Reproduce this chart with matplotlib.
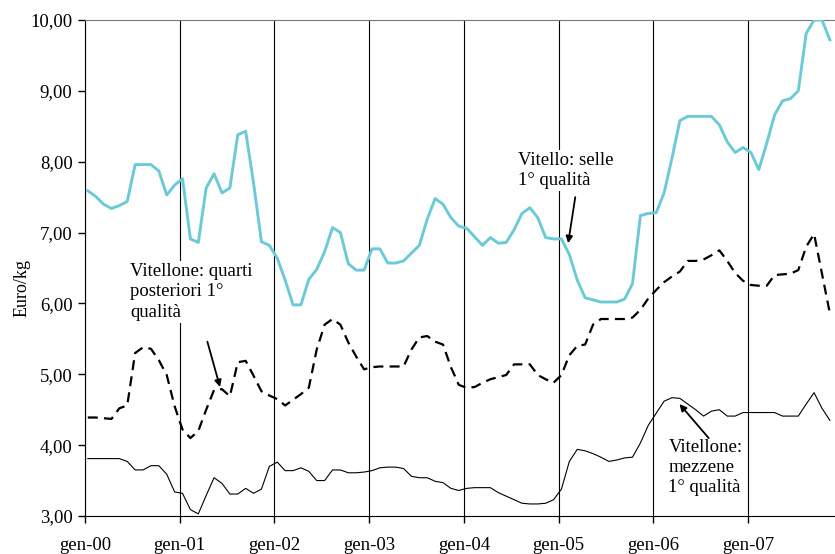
import numpy as np
import matplotlib.pyplot as plt
from matplotlib.ticker import FuncFormatter

# monthly prices, gen-00 .. nov-07 (euro/kg)
vitello_selle = [7.59, 7.51, 7.40, 7.34, 7.38, 7.44, 7.96, 7.96, 7.96, 7.87, 7.53, 7.67,
                 7.76, 6.91, 6.86, 7.63, 7.83, 7.56, 7.63, 8.38, 8.43, 7.70, 6.87, 6.82,
                 6.64, 6.33, 5.98, 5.98, 6.34, 6.48, 6.73, 7.07, 7.00, 6.56, 6.47, 6.47,
                 6.77, 6.77, 6.57, 6.57, 6.60, 6.71, 6.82, 7.19, 7.48, 7.40, 7.21, 7.09,
                 7.06, 6.94, 6.82, 6.93, 6.85, 6.86, 7.04, 7.27, 7.35, 7.21, 6.93, 6.91,
                 6.91, 6.69, 6.33, 6.08, 6.05, 6.02, 6.02, 6.02, 6.06, 6.28, 7.24, 7.27,
                 7.28, 7.56, 8.05, 8.58, 8.64, 8.64, 8.64, 8.64, 8.52, 8.28, 8.13, 8.20,
                 8.13, 7.89, 8.26, 8.66, 8.86, 8.89, 9.00, 9.81, 10.0, 10.0, 9.72]

quarti_post = [4.39, 4.39, 4.38, 4.37, 4.52, 4.56, 5.30, 5.38, 5.36, 5.20, 4.99, 4.55,
               4.22, 4.10, 4.20, 4.50, 4.78, 4.79, 4.69, 5.17, 5.19, 4.98, 4.76, 4.70,
               4.65, 4.56, 4.64, 4.72, 4.81, 5.35, 5.70, 5.78, 5.70, 5.45, 5.25, 5.07,
               5.10, 5.11, 5.11, 5.11, 5.11, 5.35, 5.52, 5.54, 5.46, 5.42, 5.10, 4.85,
               4.81, 4.82, 4.88, 4.93, 4.96, 4.99, 5.14, 5.14, 5.14, 4.99, 4.93, 4.88,
               4.99, 5.27, 5.40, 5.42, 5.70, 5.78, 5.78, 5.78, 5.78, 5.80, 5.91, 6.07,
               6.19, 6.30, 6.38, 6.45, 6.60, 6.60, 6.62, 6.68, 6.75, 6.60, 6.43, 6.32,
               6.26, 6.25, 6.25, 6.40, 6.41, 6.42, 6.47, 6.80, 6.98, 6.42, 5.86]

mezzene = [3.81, 3.81, 3.81, 3.81, 3.81, 3.77, 3.65, 3.65, 3.71, 3.71, 3.59, 3.34,
           3.32, 3.09, 3.03, 3.29, 3.54, 3.46, 3.31, 3.31, 3.39, 3.32, 3.38, 3.70,
           3.76, 3.64, 3.64, 3.68, 3.63, 3.50, 3.50, 3.65, 3.65, 3.61, 3.61, 3.62,
           3.64, 3.68, 3.69, 3.69, 3.67, 3.56, 3.54, 3.54, 3.49, 3.47, 3.39, 3.36,
           3.39, 3.40, 3.40, 3.40, 3.33, 3.28, 3.23, 3.18, 3.17, 3.17, 3.18, 3.23,
           3.38, 3.77, 3.94, 3.92, 3.88, 3.83, 3.77, 3.79, 3.82, 3.83, 4.03, 4.28,
           4.45, 4.62, 4.67, 4.66, 4.58, 4.50, 4.41, 4.48, 4.50, 4.41, 4.41, 4.46,
           4.46, 4.46, 4.46, 4.46, 4.41, 4.41, 4.41, 4.58, 4.74, 4.52, 4.35]

year_labels = ['gen-00', 'gen-01', 'gen-02', 'gen-03', 'gen-04', 'gen-05', 'gen-06', 'gen-07']

plt.rcParams['font.family'] = ['Liberation Serif', 'DejaVu Serif']
plt.rcParams['font.size'] = 13.5

fig = plt.figure(figsize=(8.35, 5.54), dpi=100)
ax = fig.add_axes([0.1018, 0.0686, 0.8982, 0.8953])

months = np.arange(len(vitello_selle)) + 0.35

ax.plot(months, vitello_selle, color='#6CCAD8', lw=2.1, zorder=3)
ax.plot(months, quarti_post, color='k', lw=1.6, linestyle=(0, (4.5, 2.8)), zorder=3)
ax.plot(months, mezzene, color='k', lw=0.8, zorder=3)

ax.set_xlim(0, 95)
ax.set_ylim(3, 10)
ax.set_xticks(np.arange(len(year_labels)) * 12)
ax.set_xticklabels(year_labels)
ax.set_yticks(np.arange(3, 11, 1))
ax.yaxis.set_major_formatter(FuncFormatter(lambda v, p: f'{v:.2f}'.replace('.', ',')))
ax.tick_params(direction='out', length=5, width=1, colors='k', labelsize=13.5)
ax.tick_params(axis='x', pad=10)
ax.tick_params(axis='y', pad=4)

ax.grid(axis='x', color='k', lw=0.8, zorder=1)
ax.set_axisbelow(True)

ax.spines['right'].set_visible(False)
ax.spines['top'].set_color('#777777')
ax.spines['left'].set_color('k')
ax.spines['bottom'].set_color('k')

ax.set_ylabel('Euro/kg', fontsize=13)
ax.yaxis.set_label_coords(-0.072, 0.46)

box = dict(facecolor='white', edgecolor='none', pad=1.5)
arr = dict(arrowstyle='-|>', color='k', lw=1.3, mutation_scale=10, shrinkA=0, shrinkB=0)

ax.text(54.9, 8.14, 'Vitello: selle\n1° qualità', ha='left', va='top',
        linespacing=1.25, bbox=box, zorder=4)
ax.annotate('', xy=(61.2, 6.85), xytext=(62.1, 7.50), arrowprops=arr, zorder=5)

ax.text(5.7, 6.57, 'Vitellone: quarti\nposteriori 1°\nqualità', ha='left', va='top',
        linespacing=1.25, bbox=box, zorder=4)
ax.annotate('', xy=(17.1, 4.82), xytext=(15.5, 5.46), arrowprops=arr, zorder=5)

ax.text(73.9, 4.09, 'Vitellone:\nmezzene\n1° qualità', ha='left', va='top',
        linespacing=1.25, bbox=box, zorder=4)
ax.annotate('', xy=(75.3, 4.58), xytext=(79.0, 4.10), arrowprops=arr, zorder=5)

fig.savefig('out.png', dpi=100)
